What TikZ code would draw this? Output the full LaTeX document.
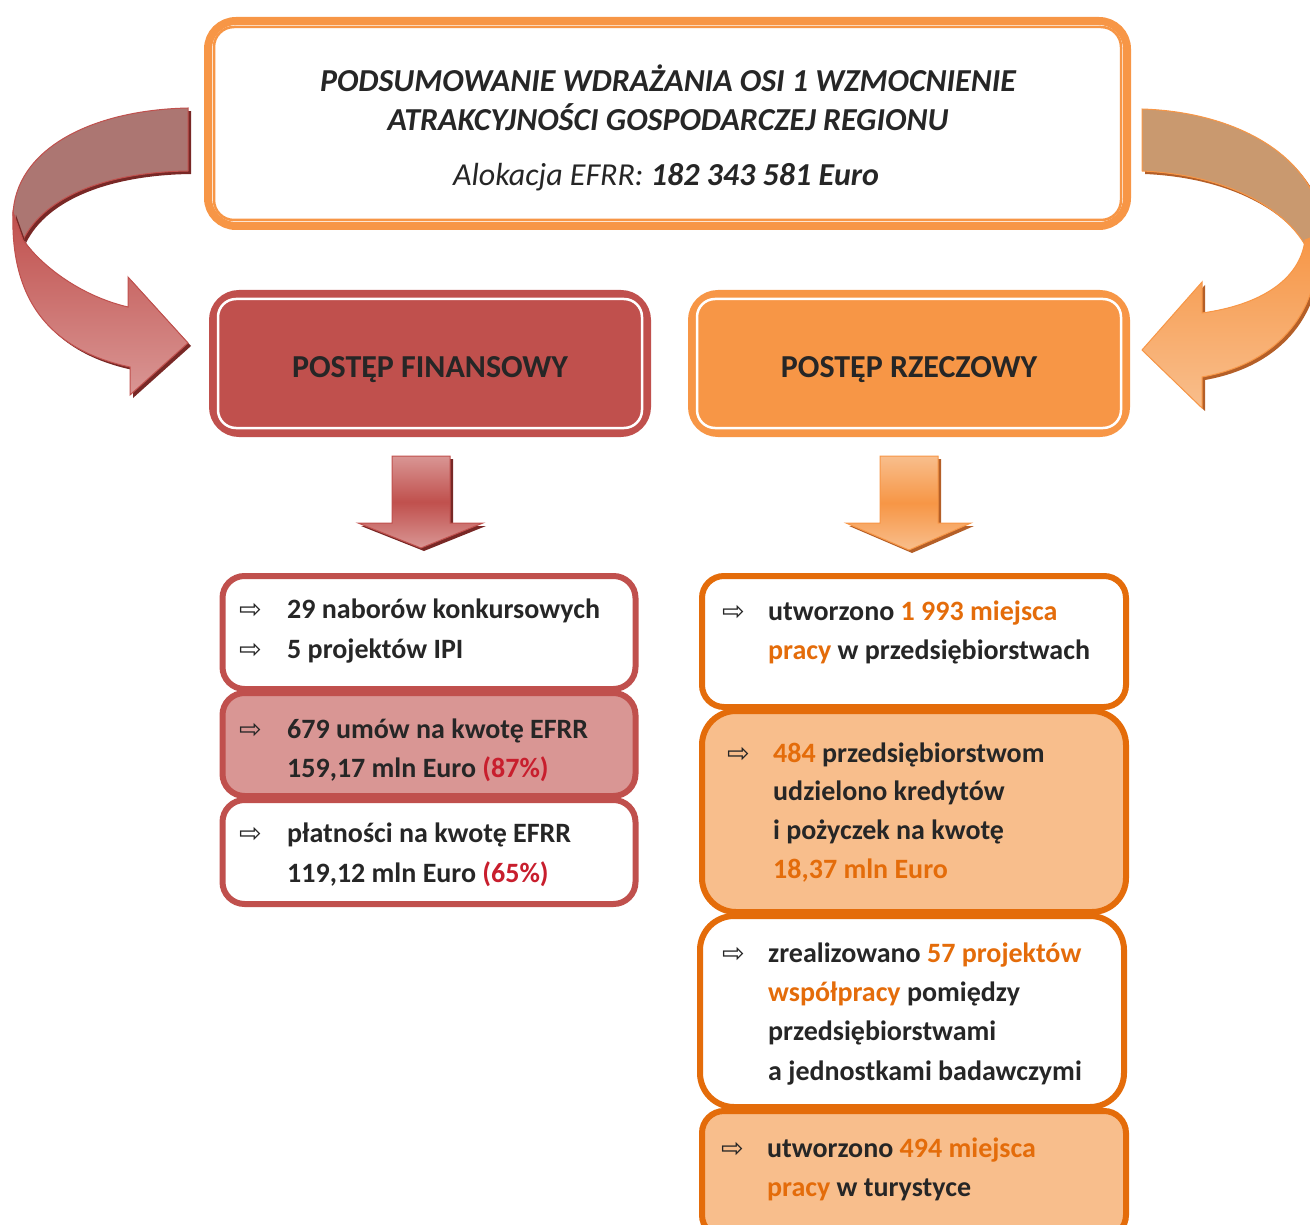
\documentclass[tikz,border=0pt]{standalone}
\usepackage{fontspec}
\setmainfont{Carlito}
\newfontfamily\arrowfont{DejaVu Sans}
\usepackage{xcolor}
\definecolor{FinRed}{RGB}{192, 80, 77}
\definecolor{FinPink}{RGB}{217, 150, 148}
\definecolor{FinGrey}{RGB}{172, 118, 114}
\definecolor{FinShadow}{RGB}{120, 40, 38}
\definecolor{RzOrange}{RGB}{247, 150, 70}
\definecolor{RzDark}{RGB}{228, 108, 10}
\definecolor{RzLight}{RGB}{248, 190, 140}
\definecolor{RzTan}{RGB}{201, 153, 111}
\definecolor{RzShadow}{RGB}{180, 95, 40}
\definecolor{TextDark}{RGB}{38, 38, 38}
\definecolor{HiRed}{RGB}{200, 30, 45}
\usetikzlibrary{
    shadows,
    calc,
    positioning
    }

\begin{document}
\begin{tikzpicture}[x=1pt, y=-1pt,
    finshadow/.style={drop shadow={shadow xshift=3pt, shadow yshift=-3pt, fill=FinShadow, opacity=1}},
    rzshadow/.style={drop shadow={shadow xshift=3pt, shadow yshift=-3pt, fill=RzShadow, opacity=1}},
    lowbox/.style={rectangle, line width=6pt, rounded corners=22pt, inner sep=0pt, minimum width=422pt},
    finbox/.style={lowbox, draw=FinRed, minimum width=413pt},
    rzbox/.style={lowbox, draw=RzDark, minimum width=424pt},
    postep/.style={rectangle, line width=8pt, rounded corners=26pt, inner sep=0pt, minimum width=434pt, minimum height=139pt},
    ttl/.style={anchor=base, inner sep=0pt, text=TextDark, font=\fontsize{32}{38}\selectfont\bfseries\itshape},
    txt/.style={anchor=base west, inner sep=0pt, text=TextDark, font=\fontsize{28}{34}\selectfont\bfseries},
    bul/.style={anchor=base west, inner sep=0pt, text=TextDark, font=\arrowfont\fontsize{27}{30}\selectfont}
    ]
    \useasboundingbox (0,0) rectangle (1310,1225);

    %Left arrow
    \fill[FinGrey, draw=FinRed, line width=1pt, finshadow] (188,108) .. controls (90,110) and (15,150) .. (13,215) -- (23,240) .. controls (45,195) and (110,172) .. (188,171) -- cycle;
    \shade[top color=FinRed, bottom color=FinPink, draw=FinRed, line width=1pt, finshadow] (13,212) .. controls (10,300) and (50,350) .. (130,367) -- (130,395) -- (188,343) -- (128,277) -- (128,307) .. controls (85,297) and (45,270) .. (23,240) -- cycle;

    %Right arrow
    \fill[RzTan, draw=RzOrange, line width=1pt, rzshadow] (1142,109) .. controls (1240,112) and (1322,160) .. (1322,235) -- (1305,245) .. controls (1285,210) and (1230,175) .. (1142,171) -- cycle;
    \shade[top color=RzOrange, bottom color=RzLight, draw=RzOrange, line width=1pt, rzshadow] (1318,235) .. controls (1322,320) and (1270,365) .. (1202,377) -- (1202,408) -- (1142,350) -- (1202,282) -- (1202,313) .. controls (1260,305) and (1300,280) .. (1305,240) -- cycle;

    %Head
    \node[rectangle, draw=RzOrange, fill=white, line width=8pt, rounded corners=28pt, inner sep=0pt, minimum width=919pt, minimum height=205pt] (head) at (667.5,123.5) {};
    \draw[RzOrange, line width=2.5pt, rounded corners=20pt] ($(head.north west)+(10,10)$) rectangle ($(head.south east)+(-10,-10)$);
    \node[ttl] (head1) at (668,92) {PODSUMOWANIE WDRAŻANIA OSI 1 WZMOCNIENIE};
    \node[ttl] (head2) at (668,131) {ATRAKCYJNOŚCI GOSPODARCZEJ REGIONU};
    \node[ttl] (head3) at (666,186) {\mdseries Alokacja EFRR: \bfseries 182 343 581 Euro};

    %Finansowy
    \node[postep, draw=FinRed, fill=FinRed] (fin) at (430,363.5) {};
    \draw[white, line width=2.5pt, rounded corners=18pt] ($(fin.north west)+(9,9)$) rectangle ($(fin.south east)+(-9,-9)$);
    \node[txt, anchor=base, font=\fontsize{32}{38}\selectfont\bfseries] (finlbl) at (430,377) {POSTĘP FINANSOWY};
    \shade[top color=FinPink, bottom color=FinPink, middle color=FinRed, draw=FinRed, line width=1pt, finshadow] (392,456) -- (450,456) -- (450,523) -- (483,523) -- (421,548) -- (358,523) -- (392,523) -- cycle;

    \node[finbox, fill=white, minimum height=113pt] (finA) at (429,632.5) {};
    \node[finbox, fill=FinPink, minimum height=103pt] (finB) at (429,744.5) {};
    \node[finbox, fill=white, minimum height=104pt] (finC) at (429,852) {};
    \node[bul] (bA1) at (239,618) {⇨};
    \node[bul] (bA2) at (239,658) {⇨};
    \node[bul] (bB1) at (239,738) {⇨};
    \node[bul] (bC1) at (239,842) {⇨};
    \node[txt] (tA1) at (287,618) {29 naborów konkursowych};
    \node[txt] (tA2) at (287,658) {5 projektów IPI};
    \node[txt] (tB1) at (287,738) {679 umów na kwotę EFRR};
    \node[txt] (tB2) at (287,777) {159,17 mln Euro \textcolor{HiRed}{(87\%)}};
    \node[txt] (tC1) at (287,842) {płatności na kwotę EFRR};
    \node[txt] (tC2) at (287,882) {119,12 mln Euro \textcolor{HiRed}{(65\%)}};

    %Rzeczowy
    \node[postep, draw=RzOrange, fill=RzOrange] (rz) at (909,363.5) {};
    \draw[white, line width=2.5pt, rounded corners=18pt] ($(rz.north west)+(9,9)$) rectangle ($(rz.south east)+(-9,-9)$);
    \node[txt, anchor=base, font=\fontsize{32}{38}\selectfont\bfseries] (rzlbl) at (909,377) {POSTĘP RZECZOWY};
    \shade[top color=RzLight, bottom color=RzLight, middle color=RzOrange, draw=RzOrange, line width=1pt, rzshadow] (880,456) -- (938,456) -- (938,523) -- (971,523) -- (909,550) -- (846,523) -- (880,523) -- cycle;

    \node[rzbox, fill=white, minimum height=131pt] (rzD) at (914,641.5) {};
    \node[rzbox, fill=RzLight, minimum height=201pt, rounded corners=34pt] (rzE) at (914,811.5) {};
    \node[rzbox, fill=white, minimum height=191pt, rounded corners=34pt] (rzF) at (912,1011.5) {};
    \node[rzbox, fill=RzLight, minimum height=126pt] (rzG) at (914,1174) {};
    \node[bul] (bD1) at (722,620) {⇨};
    \node[bul] (bE1) at (727,762) {⇨};
    \node[bul] (bF1) at (722,962) {⇨};
    \node[bul] (bG1) at (721,1157) {⇨};
    \node[txt] (tD1) at (768,620) {utworzono \textcolor{RzDark}{1 993 miejsca}};
    \node[txt] (tD2) at (768,659) {\textcolor{RzDark}{pracy} w przedsiębiorstwach};
    \node[txt] (tE1) at (773,762) {\textcolor{RzDark}{484} przedsiębiorstwom};
    \node[txt] (tE2) at (773,800) {udzielono kredytów};
    \node[txt] (tE3) at (773,839) {i pożyczek na kwotę};
    \node[txt] (tE4) at (773,878) {\textcolor{RzDark}{18,37 mln Euro}};
    \node[txt] (tF1) at (768,962) {zrealizowano \textcolor{RzDark}{57 projektów}};
    \node[txt] (tF2) at (768,1001) {\textcolor{RzDark}{współpracy} pomiędzy};
    \node[txt] (tF3) at (768,1040) {przedsiębiorstwami};
    \node[txt] (tF4) at (768,1080) {a jednostkami badawczymi};
    \node[txt] (tG1) at (767,1157) {utworzono \textcolor{RzDark}{494 miejsca}};
    \node[txt] (tG2) at (767,1196) {\textcolor{RzDark}{pracy} w turystyce};

\end{tikzpicture}
\end{document}
